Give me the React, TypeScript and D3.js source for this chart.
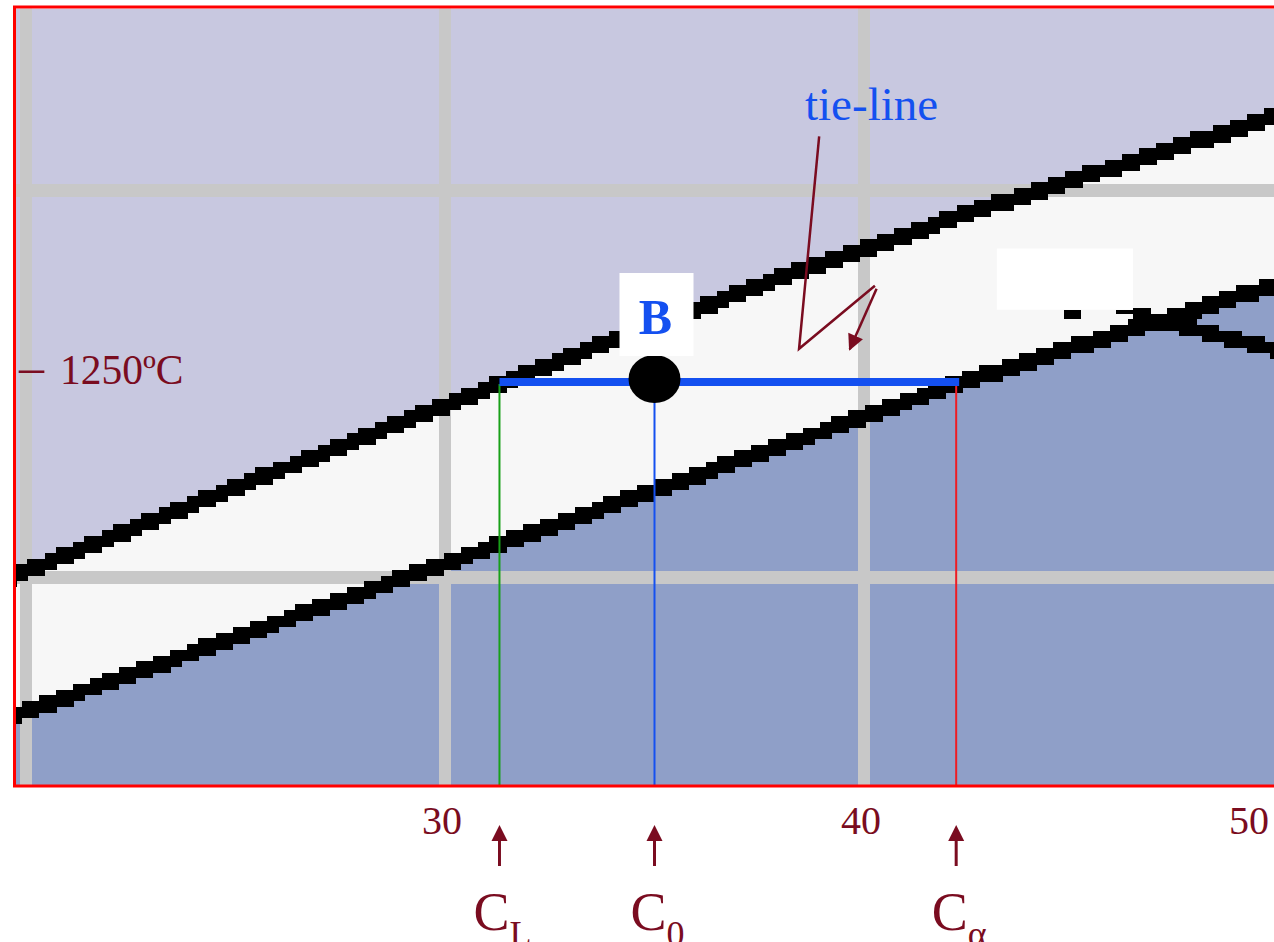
import React from 'react';
import * as d3 from 'd3';

// Canvas size
const W = 1274;
const H = 942;

// Composition (wt% Ni) gridlines and axis ticks
const gridComps = [20, 30, 40, 50];
const gridTemps = [1200, 1300];
const tickComps = [30, 40, 50];
const tickLabels = ['30', '40', '50'];

// Liquidus line (upper boundary of the two-phase field)
const liquidusComp = [19.5, 24.23, 31.3, 34.92, 38.0, 42.76, 49.74, 50.6];
const liquidusTemp = [1199.6, 1220.0, 1250, 1265.0, 1277.5, 1295.1, 1318.9, 1321.8];

// Solidus line (lower boundary of the two-phase field)
const solidusComp = [19.5, 24.23, 31.35, 36.1, 42.2, 49.74, 50.6];
const solidusTemp = [1163.5, 1181.6, 1208.8, 1226.7, 1250, 1275.4, 1278.3];

// Point B and its tie-line
const tieTemp = 1250;
const C0 = 35;
const CL = 31.3;
const Calpha = 42.2;
const markerNames = ['L', '0', 'α'];
const markerComps = [CL, C0, Calpha];

// Leader lines for the "tie-line" note (composition, temperature)
const leaderPath: [number, number][] = [[38.93, 1314.0], [38.45, 1259.1], [40.26, 1275.4]];
const leaderArrow: [number, number][] = [[40.3, 1274.6], [39.66, 1259.0]];

// Covered field label and its pointer
const labelBox: [number, number][] = [[43.17, 1285.0], [46.42, 1269.2]];
const labelBits: [number, number][][] = [
  [[44.77, 1269.2], [45.18, 1266.9]],
  [[46.01, 1269.2], [46.44, 1268.2]],
];
const pointerComp = [46.44, 50.6];
const pointerTemp = [1268.1, 1256.7];

const DARK_RED = '#7a0c20';
const BLUE = '#1450f0';
const SERIF = '"Liberation Serif", "Times New Roman", serif';

// Coarse pixel block used for the blocky boundary strokes
const BLOCK = 5.7;

export default function App() {
  const x = d3.scaleLinear().domain([20, 40]).range([26, 864]);
  const y = d3.scaleLinear().domain([1200, 1300]).range([577.5, 190.5]);

  const plot = { left: 16, top: 8.5, right: W + 40, bottom: 785 };

  const liquidus = liquidusComp.map((c, i) => [c, liquidusTemp[i]] as [number, number]);
  const solidus = solidusComp.map((c, i) => [c, solidusTemp[i]] as [number, number]);

  const areaBelow = d3
    .area<[number, number]>()
    .x((d) => x(d[0]))
    .y0(plot.bottom + 10)
    .y1((d) => y(d[1]))
    .curve(d3.curveMonotoneX);
  const straight = d3
    .line<[number, number]>()
    .x((d) => x(d[0]))
    .y((d) => y(d[1]));

  // Build a blocky stroke: one column of snapped blocks per BLOCK of width
  const blocks = (comps: number[], temps: number[], thick: number) => {
    const f = d3.scaleLinear().domain(comps).range(temps);
    const x0 = Math.max(x(comps[0]), plot.left - BLOCK);
    const x1 = x(comps[comps.length - 1]);
    const cells: { x: number; y: number; h: number }[] = [];
    const startCol = Math.floor((x0 - plot.left) / BLOCK);
    const endCol = Math.ceil((x1 - plot.left) / BLOCK);
    for (let i = startCol; i < endCol; i++) {
      const cx = plot.left + (i + 0.5) * BLOCK;
      const yc = y(f(x.invert(cx)));
      const top = Math.round((yc - thick / 2) / BLOCK) * BLOCK;
      const bottom = Math.round((yc + thick / 2) / BLOCK) * BLOCK;
      cells.push({ x: plot.left + i * BLOCK, y: top, h: bottom - top });
    }
    return cells;
  };

  const liquidusCells = blocks(liquidusComp, liquidusTemp, 17);
  const solidusCells = blocks(solidusComp, solidusTemp, 17);
  const pointerCells = blocks(pointerComp, pointerTemp, 15);

  const yTie = y(tieTemp);
  const arrowTip = 825;
  const arrowBase = 866;

  const drawCells = (cells: { x: number; y: number; h: number }[], key: string) =>
    cells.map((c, i) => (
      <rect key={key + i} x={c.x} y={c.y} width={BLOCK + 0.6} height={c.h} fill="#000000" shapeRendering="crispEdges" />
    ));

  return (
    <svg
      width={W}
      height={H}
      style={{ position: 'absolute', left: 0, top: 0, display: 'block', background: '#ffffff' }}
    >
      <defs>
        <clipPath id="plotClip">
          <rect x={plot.left} y={plot.top} width={plot.right - plot.left} height={plot.bottom - plot.top} />
        </clipPath>
        <marker
          id="leadHead"
          viewBox="0 0 10 10"
          refX="9"
          refY="5"
          markerWidth="20"
          markerHeight="16"
          markerUnits="userSpaceOnUse"
          orient="auto"
        >
          <path d="M0,0 L10,5 L0,10 Z" fill={DARK_RED} />
        </marker>
      </defs>

      <g clipPath="url(#plotClip)">
        {/* liquid field */}
        <rect x={plot.left} y={plot.top} width={plot.right - plot.left} height={plot.bottom - plot.top} fill="#c8c8e0" />
        {/* alpha + L field */}
        <path d={areaBelow(liquidus) ?? ''} fill="#f7f7f7" />
        {/* alpha field */}
        <path d={areaBelow(solidus) ?? ''} fill="#8f9fc8" />

        {/* grid */}
        {gridComps.map((c) => (
          <line key={'gx' + c} x1={x(c)} x2={x(c)} y1={plot.top} y2={plot.bottom} stroke="#c8c8c8" strokeWidth={12} />
        ))}
        {gridTemps.map((t) => (
          <line key={'gy' + t} x1={plot.left} x2={plot.right} y1={y(t)} y2={y(t)} stroke="#c8c8c8" strokeWidth={13} />
        ))}

        {/* covered field label */}
        <rect
          x={x(labelBox[0][0])}
          y={y(labelBox[0][1])}
          width={x(labelBox[1][0]) - x(labelBox[0][0])}
          height={y(labelBox[1][1]) - y(labelBox[0][1])}
          fill="#ffffff"
        />
        {labelBits.map((b, i) => (
          <rect
            key={'bit' + i}
            x={x(b[0][0])}
            y={y(b[0][1])}
            width={x(b[1][0]) - x(b[0][0])}
            height={y(b[1][1]) - y(b[0][1])}
            fill="#000000"
            shapeRendering="crispEdges"
          />
        ))}
        {drawCells(pointerCells, 'p')}

        {/* phase boundaries */}
        {drawCells(liquidusCells, 'l')}
        {drawCells(solidusCells, 's')}

        {/* composition drop lines */}
        <line x1={x(CL)} x2={x(CL)} y1={yTie} y2={plot.bottom} stroke="#18a018" strokeWidth={2} />
        <line x1={x(C0)} x2={x(C0)} y1={yTie} y2={plot.bottom} stroke={BLUE} strokeWidth={2} />
        <line x1={x(Calpha)} x2={x(Calpha)} y1={yTie} y2={plot.bottom} stroke="#ee1c24" strokeWidth={2} />

        {/* tie-line */}
        <line x1={x(CL)} x2={x(Calpha) + 3} y1={yTie - 2} y2={yTie - 2} stroke={BLUE} strokeWidth={8} />

        {/* point B */}
        <ellipse cx={x(C0)} cy={yTie - 5} rx={26} ry={24} fill="#000000" />
        <rect x={x(C0) - 35} y={yTie - 111} width={74} height={83} fill="#ffffff" />
        <text
          x={x(C0) + 1}
          y={yTie - 50}
          textAnchor="middle"
          fontFamily={SERIF}
          fontWeight="bold"
          fontSize={50}
          fill={BLUE}
        >
          B
        </text>

        {/* tie-line note */}
        <text x={805} y={120} fontFamily={SERIF} fontSize={47} fill={BLUE}>
          tie-line
        </text>
        <path d={straight(leaderPath) ?? ''} stroke={DARK_RED} strokeWidth={2.5} fill="none" />
        <path d={straight(leaderArrow) ?? ''} stroke={DARK_RED} strokeWidth={2.5} fill="none" markerEnd="url(#leadHead)" />
      </g>

      {/* frame */}
      <rect x={14.5} y={7} width={plot.right} height={779} fill="none" stroke="#ff0000" strokeWidth={3} />

      {/* temperature label */}
      <text x={19} y={yTie} fontFamily={SERIF} fontSize={50} fill={DARK_RED}>
        –
      </text>
      <text x={60} y={yTie} fontFamily={SERIF} fontSize={41.5} fill={DARK_RED}>
        1250ºC
      </text>

      {/* composition ticks */}
      {tickComps.map((c, i) => (
        <text
          key={'t' + c}
          x={Math.min(x(c) - 3, W - 25)}
          y={834}
          textAnchor="middle"
          fontFamily={SERIF}
          fontSize={40}
          fill={DARK_RED}
        >
          {tickLabels[i]}
        </text>
      ))}

      {/* composition markers */}
      {markerComps.map((c, i) => (
        <g key={'m' + i}>
          <line x1={x(c)} x2={x(c)} y1={arrowTip + 14} y2={arrowBase} stroke={DARK_RED} strokeWidth={3} />
          <path
            d={`M${x(c)},${arrowTip} L${x(c) + 8},${arrowTip + 16} L${x(c) - 8},${arrowTip + 16} Z`}
            fill={DARK_RED}
          />
          <text x={x(c) + 3} y={930} textAnchor="middle" fontFamily={SERIF} fontSize={54} fill={DARK_RED}>
            C
            <tspan fontSize={36} dy={16}>
              {markerNames[i]}
            </tspan>
          </text>
        </g>
      ))}
    </svg>
  );
}
